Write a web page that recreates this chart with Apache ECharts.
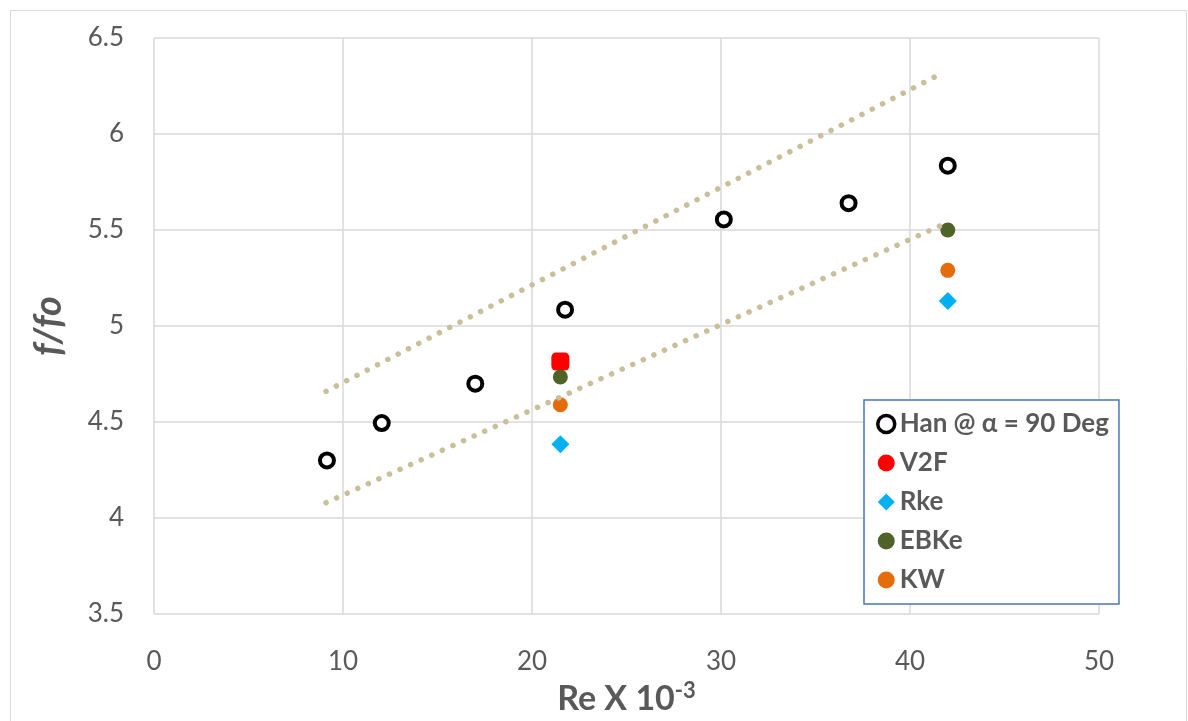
<!DOCTYPE html>
<html><head><meta charset="utf-8">
<script src="https://cdn.jsdelivr.net/npm/echarts@6/dist/echarts.min.js"></script>
<style>html,body{margin:0;padding:0;background:#fff}#c{width:1188px;height:721px}</style>
</head><body><div id="c"></div>
<script>
const hanX = [9.15, 12.05, 17.0, 21.75, 30.15, 36.75, 42.0];
const hanY = [4.30, 4.495, 4.70, 5.085, 5.555, 5.64, 5.835];
const v2fX = [21.5];
const v2fY = [4.815];
const rkeX = [21.5, 42.0];
const rkeY = [4.385, 5.13];
const ebkeX = [21.5, 42.0];
const ebkeY = [4.735, 5.50];
const kwX = [21.5, 42.0];
const kwY = [4.59, 5.29];
const upperX = [9.1, 41.75];
const upperY = [4.66, 6.32];
const lowerX = [9.1, 42.0];
const lowerY = [4.08, 5.54];
const xTicks = [0, 10, 20, 30, 40, 50];
const yTicks = [3.5, 4, 4.5, 5, 5.5, 6, 6.5];

const zip = (a, b) => a.map((v, i) => [v, b[i]]);
const FONT = 'Lato, "Open Sans", sans-serif';
const chart = echarts.init(document.getElementById('c'));
chart.setOption({
  animation: false,
  backgroundColor: '#fff',
  graphic: [{
    type: 'rect', shape: {x: 10.5, y: 10.5, width: 1176, height: 720},
    style: {fill: 'none', stroke: '#d9d9d9', lineWidth: 1}, silent: true
  }],
  grid: {left: 154, top: 38, right: 89, bottom: 98, containLabel: false},
  xAxis: {
    type: 'value', min: 0, max: 50, interval: 10,
    axisLine: {show: false}, axisTick: {show: false},
    splitLine: {show: true, lineStyle: {color: '#d9d9d9', width: 1.5}},
    axisLabel: {fontSize: 26, color: '#595959', fontFamily: FONT, margin: 35,
      formatter: v => xTicks.includes(v) ? String(v) : ''},
    name: '{b|Re X 10}{s|-3}', nameLocation: 'middle', nameGap: 62,
    nameTextStyle: {
      rich: {
        b: {fontSize: 34, fontWeight: 'bold', color: '#595959', fontFamily: FONT},
        s: {fontSize: 22, fontWeight: 'bold', color: '#595959', fontFamily: FONT, padding: [0, 0, 16, 0]}
      }
    }
  },
  yAxis: {
    type: 'value', min: 3.5, max: 6.5, interval: 0.5,
    axisLine: {show: false}, axisTick: {show: false},
    splitLine: {show: true, lineStyle: {color: '#d9d9d9', width: 1.5}},
    axisLabel: {fontSize: 26, color: '#595959', fontFamily: FONT, margin: 30,
      formatter: v => yTicks.includes(v) ? String(v) : ''},
    name: 'f/fo', nameLocation: 'middle', nameGap: 86, nameRotate: 90,
    nameTextStyle: {fontSize: 38, fontWeight: 'bold', fontStyle: 'italic', color: '#595959', fontFamily: FONT}
  },
  legend: {
    orient: 'vertical', left: 864, top: 400, width: 252,
    padding: [11, 10, 11, 12], itemGap: 13, itemWidth: 17, itemHeight: 17,
    backgroundColor: '#fff', borderColor: '#4a76b8', borderWidth: 1.5, borderRadius: 0,
    textStyle: {fontSize: 26, fontWeight: 'bold', color: '#595959', fontFamily: FONT},
    data: [
      {name: 'Han @ α = 90 Deg', icon: 'circle', itemStyle: {color: '#fff', borderColor: '#000', borderWidth: 3.5, opacity: 1}},
      {name: 'V2F', icon: 'circle', itemStyle: {color: '#ff0000', opacity: 1}},
      {name: 'Rke', icon: 'diamond', itemStyle: {color: '#00b0f0', opacity: 1}},
      {name: 'EBKe', icon: 'circle', itemStyle: {color: '#4f6228', opacity: 1}},
      {name: 'KW', icon: 'circle', itemStyle: {color: '#e46c0a', opacity: 1}}
    ]
  },
  series: [
    {name: 'upper', type: 'line', data: zip(upperX, upperY), symbol: 'none', silent: true,
      lineStyle: {color: '#c9bf9b', width: 5.5, type: [0.1, 11.5], cap: 'round'}},
    {name: 'lower', type: 'line', data: zip(lowerX, lowerY), symbol: 'none', silent: true,
      lineStyle: {color: '#c9bf9b', width: 5.5, type: [0.1, 11.5], cap: 'round'}},
    {name: 'Han @ α = 90 Deg', type: 'scatter', data: zip(hanX, hanY), symbol: 'circle', symbolSize: 14,
      itemStyle: {color: '#fff', borderColor: '#000', borderWidth: 4, opacity: 1}},
    {name: 'V2F', type: 'scatter', data: zip(v2fX, v2fY), symbol: 'roundRect', symbolSize: 18,
      itemStyle: {color: '#ff0000', opacity: 1}},
    {name: 'Rke', type: 'scatter', data: zip(rkeX, rkeY), symbol: 'diamond', symbolSize: 18,
      itemStyle: {color: '#00b0f0', opacity: 1}},
    {name: 'EBKe', type: 'scatter', data: zip(ebkeX, ebkeY), symbol: 'circle', symbolSize: 15,
      itemStyle: {color: '#4f6228', opacity: 1}},
    {name: 'KW', type: 'scatter', data: zip(kwX, kwY), symbol: 'circle', symbolSize: 15,
      itemStyle: {color: '#e46c0a', opacity: 1}}
  ]
});
</script></body></html>
